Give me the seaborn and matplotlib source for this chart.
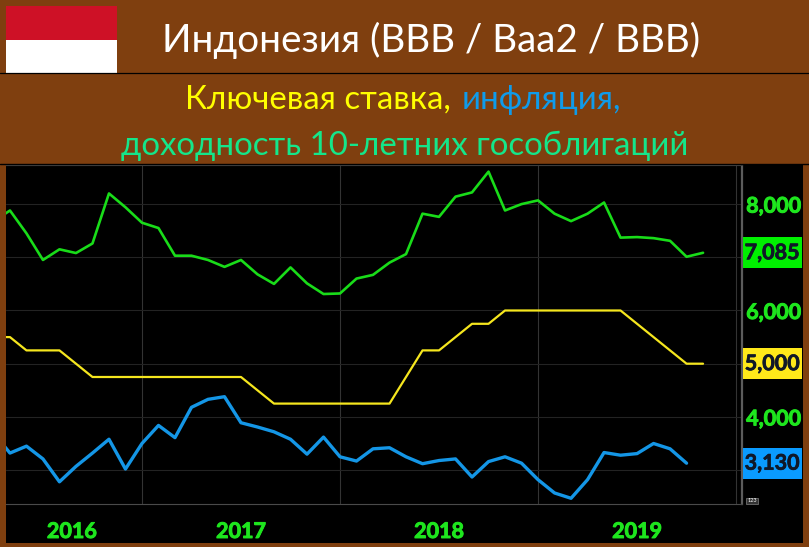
import numpy as np
import pandas as pd
import seaborn as sns
import matplotlib
matplotlib.use('Agg')
import matplotlib.pyplot as plt
import matplotlib.patheffects as pe
from matplotlib.patches import Rectangle
from matplotlib import transforms

W, H = 809, 547

#значения с графика, помесячно (первая точка обрезана левым краем)
bond_10y = [7.67, 7.88, 7.45, 6.95, 7.15, 7.08, 7.26, 8.20, 7.94, 7.65, 7.55, 7.03, 7.03, 6.95, 6.82,
            6.95, 6.68, 6.50, 6.81, 6.51, 6.31, 6.32, 6.60, 6.67, 6.90, 7.06, 7.82, 7.76, 8.14, 8.22,
            8.61, 7.88, 8.00, 8.07, 7.82, 7.68, 7.82, 8.03, 7.37, 7.38, 7.36, 7.31, 7.01, 7.085]
key_rate = [5.50, 5.50, 5.25, 5.25, 5.25, 5.00, 4.75, 4.75, 4.75, 4.75, 4.75, 4.75, 4.75, 4.75, 4.75,
            4.75, 4.50, 4.25, 4.25, 4.25, 4.25, 4.25, 4.25, 4.25, 4.25, 4.75, 5.25, 5.25, 5.50, 5.75,
            5.75, 6.00, 6.00, 6.00, 6.00, 6.00, 6.00, 6.00, 6.00, 5.75, 5.50, 5.25, 5.00, 5.00]
inflation = [3.70, 3.32, 3.45, 3.21, 2.78, 3.07, 3.32, 3.58, 3.02, 3.50, 3.84, 3.61, 4.18, 4.33, 4.38,
             3.89, 3.81, 3.72, 3.58, 3.30, 3.62, 3.25, 3.17, 3.40, 3.42, 3.25, 3.12, 3.18, 3.21, 2.87,
             3.16, 3.25, 3.13, 2.82, 2.57, 2.47, 2.82, 3.33, 3.28, 3.31, 3.50, 3.40, 3.13]
months = list(range(-1, 43))
year_labels = ['2016', '2017', '2018', '2019']
year_pos = [3.75, 14, 26, 38]
y_ticks = [3, 4, 5, 6, 7, 8]
#3,000 5,000 и 7,000 в оригинале закрыты плашками
y_labels = ['', '4,000', '', '6,000', '', '8,000']

BROWN = '#7f3f0f'
GREEN = '#19dc19'
YELLOW = '#f5e61e'
BLUE = '#1496e6'

sns.set_theme(style='dark')
plt.rcParams['font.family'] = ['Lato', 'Noto Sans', 'DejaVu Sans']


def fx(px):
    return px / W


def fy(py):
    return 1 - py / H


fig = plt.figure(figsize=(W / 100, H / 100), dpi=100, facecolor=BROWN)

#черная подложка под графиком и подписями
fig.add_artist(Rectangle((fx(6), fy(543)), fx(797), (543 - 165) / H, transform=fig.transFigure,
                         fc='black', ec='none', zorder=-1))
#флаг
fig.add_artist(Rectangle((fx(6), fy(40)), fx(111), 34 / H, transform=fig.transFigure, fc='#ce1126', ec='none'))
fig.add_artist(Rectangle((fx(6), fy(73)), fx(111), 33 / H, transform=fig.transFigure, fc='white', ec='none'))
fig.add_artist(plt.Line2D([0, 1], [fy(73), fy(73)], color='black', lw=0.9))
fig.add_artist(plt.Line2D([0, 1], [fy(164), fy(164)], color='black', lw=1))

ax = fig.add_axes([fx(6), fy(504.3), fx(736), (504.3 - 165) / H])
ax.set_facecolor('black')

df = pd.DataFrame({'month': months, 'bond': bond_10y, 'rate': key_rate,
                   'cpi': inflation + [np.nan]})
sns.lineplot(data=df, x='month', y='bond', color=GREEN, lw=1.9, ax=ax)
sns.lineplot(data=df, x='month', y='rate', color=YELLOW, lw=1.6, ax=ax)
sns.lineplot(data=df, x='month', y='cpi', color=BLUE, lw=2.4, ax=ax)

ax.set_xlim(-0.24, 44.36)
ax.set_ylim(2.357, 8.735)
ax.set_xlabel('')
ax.set_ylabel('')
ax.set_xticks([8, 20, 32, 44])
ax.set_xticklabels([])
ax.set_xticks(year_pos, labels=year_labels, minor=True)
ax.yaxis.tick_right()
ax.set_yticks(y_ticks, labels=y_labels)
ax.tick_params(axis='x', which='major', length=0)
ax.tick_params(axis='x', which='minor', length=0, pad=12, labelsize=15.5, labelcolor='#1ee61e')
ax.tick_params(axis='y', length=0, pad=3, labelsize=15.5, labelcolor='#1ee61e')
thick = [pe.withStroke(linewidth=0.7, foreground='#1ee61e')]
for t in ax.get_xticklabels(minor=True) + ax.get_yticklabels():
    t.set_fontweight('bold')
    t.set_path_effects(thick)
ax.grid(True, axis='y', color='#232323', lw=0.8)
ax.grid(True, axis='x', which='major', color='#333333', lw=0.8)
ax.set_axisbelow(True)
for name, sp in ax.spines.items():
    sp.set_visible(True)
    sp.set_color('#4a4a4a')
    sp.set_linewidth(0.8)
ax.spines['left'].set_visible(False)
ax.spines['right'].set_color('#5c5c5c')
ax.spines['right'].set_linewidth(1.6)

#плашки последних значений
tr = transforms.blended_transform_factory(fig.transFigure, ax.transData)
box_h = 31 / 53.2
for val, txt, c in [(7.085, '7,085', '#00f000'), (5.0, '5,000', '#ffe81a'), (3.13, '3,130', '#0a9bff')]:
    fig.add_artist(Rectangle((fx(742.5), val - box_h / 2), fx(59.5), box_h, transform=tr, fc=c, ec='none', zorder=5))
    fig.text(fx(772), val, txt, transform=tr, color='#101828', fontsize=15.5, fontweight='bold',
             ha='center', va='center', zorder=6,
             path_effects=[pe.withStroke(linewidth=0.5, foreground='#101828')])

fig.text(fx(752), fy(501), '123', color='white', fontsize=4, ha='center', va='center',
         bbox=dict(fc='#333333', ec='#999999', lw=0.4, pad=0.6))

#заголовки
fig.text(fx(162), fy(52), 'Индонезия (BBB / Baa2 / BBB)', color='white', fontsize=27.8, ha='left', va='baseline')
fig.text(fx(185), fy(109), 'Ключевая ставка,', color='#ffff00', fontsize=23.8, ha='left', va='baseline')
fig.text(fx(462), fy(109), 'инфляция,', color='#0f9bea', fontsize=23.8, ha='left', va='baseline')
fig.text(fx(121), fy(155), 'доходность 10-летних гособлигаций', color='#14e68a', fontsize=23.8, ha='left', va='baseline')

fig.savefig('out.png', dpi=100, facecolor=BROWN)
